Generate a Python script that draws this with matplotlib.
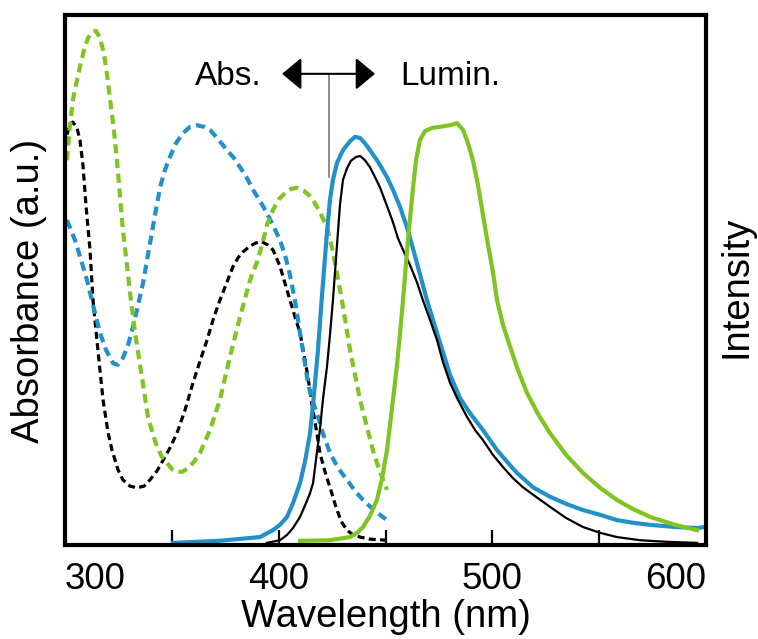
import matplotlib
matplotlib.use("Agg")
import matplotlib.pyplot as plt

plt.rcParams['font.family'] = ['Liberation Sans', 'DejaVu Sans']

BLUE = "#2290C9"
GREEN = "#7FC423"

# absorption spectra (dashed), wavelength in nm, absorbance in a.u.
abs_black_x = [300.9, 302.3, 303.7, 305.6, 307.0, 308.4, 309.8, 311.7, 313.1, 315.4, 317.8, 320.1, 322.0, 324.8,
               327.1, 330.4, 333.7, 337.0, 339.8, 343.1, 345.9, 349.1, 352.4, 356.2, 359.9, 363.2, 366.5, 369.3,
               372.5, 375.8, 378.6, 381.0, 383.3, 386.6, 389.4, 392.2, 395.0, 397.3, 400.6, 403.9, 406.7, 410.0,
               411.9, 413.7, 415.6, 417.9, 419.3, 421.7, 424.0, 426.8, 429.2, 432.0, 434.8, 438.1, 442.7, 450.7]
abs_black_y = [77.4, 79.4, 79.8, 78.7, 76.4, 71.7, 64.2, 55.7, 46.2, 36.8, 27.4, 21.3, 17.9, 14.2,
               12.3, 11.1, 10.8, 11.1, 12.3, 14.0, 16.0, 18.3, 21.1, 25.5, 30.6, 34.7, 38.7, 42.5,
               46.2, 49.6, 52.5, 54.2, 55.3, 56.4, 57.0, 57.2, 56.6, 55.7, 52.6, 48.1, 44.3, 40.0,
               35.8, 31.7, 26.4, 21.1, 17.4, 13.8, 10.9, 7.2, 4.5, 2.8, 1.9, 1.5, 1.1, 0.9]

abs_blue_x = [300.9, 302.8, 304.7, 307.5, 310.3, 313.1, 316.4, 319.2, 322.5, 324.8, 327.1, 329.5, 331.8, 334.2,
              336.5, 338.8, 341.7, 344.5, 346.8, 349.1, 351.9, 355.2, 358.5, 361.8, 365.1, 367.9, 371.6, 375.8,
              379.1, 381.9, 385.2, 388.0, 391.3, 394.5, 397.3, 400.6, 403.0, 405.3, 407.6, 410.0, 411.9, 413.7,
              415.6, 417.9, 420.7, 424.0, 427.8, 432.0, 435.7, 439.5, 445.1, 450.7]
abs_blue_y = [61.3, 59.4, 57.5, 53.8, 50.0, 45.3, 40.0, 36.8, 34.3, 34.0, 35.3, 37.7, 41.1, 45.3,
              49.4, 54.7, 61.3, 67.5, 70.8, 73.2, 75.8, 77.7, 78.9, 79.2, 78.9, 78.3, 76.6, 74.5,
              73.0, 71.3, 69.2, 67.0, 64.9, 62.6, 60.4, 57.5, 54.7, 50.9, 46.2, 40.0, 35.3, 30.6,
              27.4, 24.9, 21.1, 17.4, 14.5, 12.3, 10.2, 8.5, 6.4, 4.7]

abs_green_x = [300.9, 302.3, 303.7, 305.6, 307.0, 308.9, 310.8, 312.6, 314.5, 316.4, 318.3, 319.7, 321.1, 322.9,
               324.3, 325.7, 327.1, 329.0, 330.4, 332.8, 336.0, 338.8, 341.2, 343.1, 345.4, 347.7, 350.1, 352.4,
               354.8, 357.6, 360.4, 363.2, 367.9, 372.5, 377.2, 381.9, 386.6, 389.9, 392.2, 394.5, 397.3, 400.2,
               403.0, 405.8, 408.6, 411.9, 414.2, 416.1, 419.3, 422.6, 425.0, 427.3, 429.6, 433.4, 438.1, 441.3,
               444.1, 447.4, 450.7]
abs_green_y = [72.6, 79.2, 84.0, 87.7, 90.2, 93.4, 95.7, 96.8, 97.0, 95.7, 92.5, 88.7, 84.0, 78.3,
               72.6, 66.0, 59.4, 52.8, 47.7, 40.0, 31.7, 24.2, 20.8, 18.5, 16.6, 15.5, 14.3, 13.8,
               13.8, 14.5, 15.7, 17.4, 21.7, 27.4, 35.5, 43.0, 50.0, 53.4, 56.6, 60.4, 63.2, 65.3,
               66.4, 67.2, 67.4, 66.8, 66.0, 65.1, 62.8, 60.0, 56.0, 51.3, 46.2, 36.8, 27.4, 22.3,
               17.9, 13.8, 10.4]

# luminescence spectra (solid), intensity in a.u.
lum_black_x = [394.5, 400.6, 403.9, 406.7, 410.0, 412.8, 414.7, 416.1, 417.9, 419.3, 420.7, 422.6, 424.0, 425.4,
               427.3, 428.7, 430.1, 432.0, 433.8, 436.2, 438.1, 440.4, 442.7, 445.1, 447.4, 450.2, 453.5, 455.8,
               458.2, 461.5, 464.7, 467.5, 470.8, 474.1, 476.9, 480.2, 483.9, 488.1, 491.9, 495.6, 500.3, 505.0,
               509.7, 514.3, 520.4, 527.0, 534.5, 542.4, 550.4, 558.3, 569.1, 581.7, 595.8]
lum_black_y = [0.4, 0.9, 1.9, 3.2, 5.3, 7.9, 9.8, 11.7, 17.5, 21.7, 27.4, 33.6, 39.6, 46.2,
               56.6, 64.2, 68.9, 71.1, 72.5, 73.2, 73.4, 72.6, 71.3, 69.4, 67.5, 64.5, 60.9, 57.9,
               55.7, 52.8, 49.6, 46.2, 42.5, 38.7, 34.5, 30.6, 27.4, 24.2, 21.7, 19.8, 17.0, 14.7,
               12.6, 10.9, 9.1, 7.2, 5.1, 3.4, 2.3, 1.5, 0.9, 0.6, 0.4]

lum_blue_x = [350.5, 372.5, 391.3, 397.3, 400.6, 403.9, 406.7, 410.0, 412.3, 414.7, 416.5, 418.4, 420.3, 422.6,
              424.0, 425.4, 427.3, 430.1, 433.4, 435.7, 438.1, 440.4, 442.7, 446.5, 450.7, 453.5, 456.8, 460.5,
              464.7, 469.4, 474.1, 480.2, 484.9, 489.5, 495.6, 502.2, 506.9, 511.5, 519.0, 527.0, 534.9, 542.4,
              550.4, 558.3, 565.8, 573.8, 585.5, 595.8, 599.5]
lum_blue_y = [0.4, 0.8, 1.5, 2.8, 3.8, 5.3, 7.9, 11.7, 15.7, 21.1, 28.3, 36.8, 47.2, 58.9,
              65.1, 68.9, 72.1, 74.5, 76.2, 77.0, 76.8, 75.8, 74.5, 72.3, 69.4, 67.0, 63.8, 59.4,
              53.2, 46.2, 40.0, 32.1, 27.7, 24.9, 21.7, 17.9, 15.7, 13.6, 10.9, 9.1, 7.7, 6.6,
              5.7, 4.7, 4.2, 3.8, 3.4, 3.2, 3.4]

lum_green_x = [410.0, 424.0, 433.4, 436.7, 439.5, 442.7, 446.0, 448.4, 450.7, 452.1, 453.5, 455.4, 456.8, 458.2,
               460.5, 462.9, 464.3, 466.1, 468.5, 471.8, 475.5, 480.2, 483.5, 486.3, 488.6, 490.9, 493.3, 495.6,
               498.0, 500.3, 502.2, 505.0, 508.3, 512.0, 516.2, 521.4, 527.0, 534.5, 542.4, 550.4, 558.3, 565.8,
               573.8, 585.5, 595.8]
lum_green_y = [0.8, 0.9, 1.5, 2.3, 3.4, 5.5, 8.5, 12.6, 17.9, 22.6, 27.4, 34.0, 40.0, 46.2,
               57.5, 67.5, 72.6, 76.4, 78.1, 78.7, 78.9, 79.2, 79.6, 78.3, 75.8, 72.6, 67.9, 62.3,
               56.6, 51.5, 46.2, 41.5, 37.4, 33.0, 28.7, 24.7, 21.1, 17.0, 13.6, 10.8, 8.5, 6.8,
               5.3, 3.8, 2.8]

tick_pos = [300, 350, 400, 450, 500, 550, 600]
tick_labels = ["300", "", "400", "", "500", "", "600"]

fig = plt.figure(figsize=(7.58, 6.39), dpi=100)
ax = fig.add_axes([65 / 758, 1 - 545 / 639, 641 / 758, 530 / 639])

dash = (0, (2.2, 1.35))
ax.plot(abs_black_x, abs_black_y, color="black", lw=2.3, linestyle=dash)
ax.plot(abs_blue_x, abs_blue_y, color=BLUE, lw=3.0, linestyle=dash)
ax.plot(abs_green_x, abs_green_y, color=GREEN, lw=3.0, linestyle=dash)

ax.plot(lum_blue_x, lum_blue_y, color=BLUE, lw=3.0)
ax.plot(lum_black_x, lum_black_y, color="black", lw=1.6)
ax.plot(lum_green_x, lum_green_y, color=GREEN, lw=3.0)

ax.set_xlim(300, 600)
ax.set_ylim(0, 100)
ax.set_yticks([])
ax.set_xticks(tick_pos)
ax.set_xticklabels(tick_labels, fontsize=26.5)
lbls = ax.get_xticklabels()
lbls[0].set_ha("left")
lbls[-1].set_ha("right")
ax.tick_params(axis="x", direction="in", length=11, width=1.6, pad=12)
for s in ax.spines.values():
    s.set_linewidth(3)

ax.set_xlabel("Wavelength (nm)", fontsize=27.5, labelpad=2)
fig.text(29 / 758, 1 - 291 / 639, "Absorbance (a.u.)", rotation=90, fontsize=27.5, ha="center", va="center")
fig.text(737 / 758, 1 - 287 / 639, "Intensity", rotation=90, fontsize=27.5, ha="center", va="center")

# Abs. <-> Lumin. marker
ax.text((262 - 65) / 641, (545 - 85) / 530, "Abs.", transform=ax.transAxes, fontsize=24, ha="right", va="baseline")
ax.text((400 - 65) / 641, (545 - 85) / 530, "Lumin.", transform=ax.transAxes, fontsize=24, ha="left", va="baseline")
ax.annotate("", xy=(401.6, 88.9), xytext=(445.1, 88.9),
            arrowprops=dict(arrowstyle="<|-|>,head_length=0.6,head_width=0.5", mutation_scale=20,
                            color="black", lw=1.5, shrinkA=0, shrinkB=0))
ax.plot([423.6, 423.6], [88.9, 69.4], color="#777777", lw=1.2)

fig.savefig("out.png", dpi=100)
